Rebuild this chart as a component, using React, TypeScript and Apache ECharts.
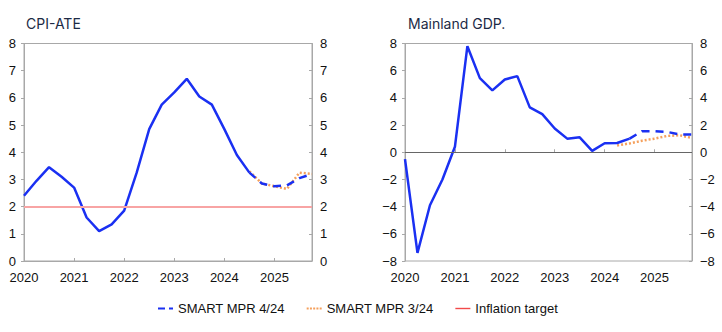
import React, { useEffect, useRef } from "react";
import * as echarts from "echarts";

const YEARS = ["2020", "2021", "2022", "2023", "2024", "2025"];
const QUARTERS = ["Q1", "Q2", "Q3", "Q4"];

// CPI-ATE, four-quarter change, actual 2020Q1–2024Q3
const cpiActual = [2.4, 2.95, 3.45, 3.1, 2.7, 1.6, 1.1, 1.35, 1.85, 3.25, 4.85, 5.75, 6.2, 6.7, 6.05, 5.75, 4.85, 3.9, 3.25];
// SMART MPR 4/24, from 2024Q3
const cpiMpr424 = [3.25, 2.85, 2.75, 2.78, 3.05, 3.2];
// SMART MPR 3/24, from 2024Q3
const cpiMpr324 = [3.3, 2.85, 2.75, 2.65, 3.25, 3.2];
const INFLATION_TARGET = 2;

// Mainland GDP, actual 2020Q1–2024Q3
const gdpActual = [-0.5, -7.4, -3.9, -2.0, 0.4, 7.8, 5.45, 4.55, 5.35, 5.6, 3.3, 2.8, 1.75, 1.0, 1.1, 0.1, 0.66, 0.68, 1.0];
// SMART MPR 4/24, from 2024Q3
const gdpMpr424 = [1.0, 1.55, 1.55, 1.5, 1.3, 1.3];
// SMART MPR 3/24, from 2024Q2
const gdpMpr324 = [0.5, 0.65, 0.85, 1.0, 1.2, 1.25, 1.05];

const cpiYTicks = { min: 0, max: 8, interval: 1 };
const gdpYTicks = { min: -8, max: 8, interval: 2 };

const categories: string[] = [];
YEARS.forEach((y) => QUARTERS.forEach((q) => categories.push(y + " " + q)));

const pad = (arr: number[], start: number) => {
  const out: (number | null)[] = [];
  for (let i = 0; i < start; i++) out.push(null);
  return out.concat(arr);
};

const FONT = "'Liberation Sans', Arial, Helvetica, sans-serif";
const TITLE_FONT = "Inter, 'Liberation Sans', Arial, sans-serif";
const BLUE = "#1a30f2";
const ORANGE = "#f5a05c";
const AXIS_GREY = "#a8a8a8";

const ICON_DASH = "path://M0,0h7v2h-7zM11,0h4v2h-4z";
const ICON_DOT = "path://M0,0h2v2h-2zM3.25,0h2v2h-2zM6.5,0h2v2h-2zM9.75,0h2v2h-2zM13,0h2v2h-2z";
const ICON_LINE = "path://M0,0h15v1.4h-15z";

export default function App() {
  const ref = useRef<HTMLDivElement>(null);
  useEffect(() => {
    if (!ref.current) return;
    const chart = echarts.init(ref.current, null, { renderer: "svg" });

    const xAxisBase = (gridIndex: number) => ({
      type: "category" as const,
      gridIndex,
      data: categories,
      boundaryGap: false,
      axisLine: { lineStyle: { color: AXIS_GREY, width: 1 } },
      axisTick: { inside: true, length: 3, interval: 3, lineStyle: { color: AXIS_GREY } },
      axisLabel: {
        interval: 3,
        margin: 10,
        fontSize: 13,
        fontFamily: FONT,
        color: "#111",
        formatter: (v: string) => v.split(" ")[0],
      },
      splitLine: { show: false },
    });

    const yAxisBase = (gridIndex: number, position: "left" | "right", t: any) => ({
      type: "value" as const,
      gridIndex,
      position,
      min: t.min,
      max: t.max,
      interval: t.interval,
      axisLine: { show: true, onZero: false, lineStyle: { color: AXIS_GREY, width: 1 } },
      axisTick: { show: true, inside: position === "right", length: 3, lineStyle: { color: AXIS_GREY } },
      axisLabel: {
        margin: 8,
        fontSize: 13,
        fontFamily: FONT,
        color: "#111",
        formatter: (v: number) => String(v).replace("-", "\u2212"),
      },
      splitLine: { show: false },
    });

    const option: any = {
      animation: false,
      backgroundColor: "#ffffff",
      title: [
        { text: "CPI-ATE", left: 21, top: 11, textStyle: { fontSize: 14, fontWeight: "normal", color: "#1c2a45", fontFamily: TITLE_FONT } },
        { text: "Mainland GDP.", left: 403, top: 11, textStyle: { fontSize: 14, fontWeight: "normal", color: "#1c2a45", fontFamily: TITLE_FONT } },
      ],
      legend: {
        left: 153,
        top: 297,
        itemWidth: 15,
        itemHeight: 2.5,
        itemGap: 22,
        data: [
          { name: "SMART MPR 4/24", icon: ICON_DASH, itemStyle: { color: BLUE } },
          { name: "SMART MPR 3/24", icon: ICON_DOT, itemStyle: { color: ORANGE } },
          { name: "Inflation target", icon: ICON_LINE, itemStyle: { color: "#f24a4a" } },
        ],
        textStyle: { fontSize: 13, fontFamily: FONT, color: "#111" },
      },
      grid: [
        { left: 24, right: 410, top: 43.5, bottom: 71, show: true, borderColor: AXIS_GREY, borderWidth: 1, backgroundColor: "transparent" },
        { left: 405, right: 30, top: 43.5, bottom: 71, show: true, borderColor: AXIS_GREY, borderWidth: 1, backgroundColor: "transparent" },
      ],
      xAxis: [xAxisBase(0), xAxisBase(1)],
      yAxis: [
        yAxisBase(0, "left", cpiYTicks),
        yAxisBase(0, "right", cpiYTicks),
        yAxisBase(1, "left", gdpYTicks),
        yAxisBase(1, "right", gdpYTicks),
      ],
      series: [
        {
          name: "Inflation target",
          type: "line",
          xAxisIndex: 0,
          yAxisIndex: 0,
          data: [],
          symbol: "none",
          lineStyle: { color: "#f24a4a", width: 1.5 },
          itemStyle: { color: "#f24a4a" },
          markLine: {
            silent: true,
            symbol: "none",
            label: { show: false },
            lineStyle: { color: "#f8a4a4", width: 2, type: "solid" },
            data: [{ yAxis: INFLATION_TARGET }],
          },
          z: 1,
        },
        {
          name: "CPI-ATE",
          type: "line",
          xAxisIndex: 0,
          yAxisIndex: 0,
          data: cpiActual,
          symbol: "none",
          lineStyle: { color: BLUE, width: 2.5 },
          itemStyle: { color: BLUE },
          z: 4,
        },
        {
          name: "SMART MPR 3/24",
          type: "line",
          xAxisIndex: 0,
          yAxisIndex: 0,
          data: pad(cpiMpr324, 18),
          symbol: "none",
          lineStyle: { color: ORANGE, width: 2.5, type: [2, 2] },
          itemStyle: { color: ORANGE },
          z: 3,
        },
        {
          name: "SMART MPR 4/24",
          type: "line",
          xAxisIndex: 0,
          yAxisIndex: 0,
          data: pad(cpiMpr424, 18),
          symbol: "none",
          lineStyle: { color: BLUE, width: 2.5, type: [8, 6] },
          itemStyle: { color: BLUE },
          z: 4,
        },
        {
          name: "Mainland GDP",
          type: "line",
          xAxisIndex: 1,
          yAxisIndex: 2,
          data: gdpActual,
          symbol: "none",
          lineStyle: { color: BLUE, width: 2.5 },
          itemStyle: { color: BLUE },
          markLine: {
            silent: true,
            symbol: "none",
            label: { show: false },
            lineStyle: { color: "#666666", width: 1, type: "solid" },
            data: [{ yAxis: 0 }],
          },
          z: 4,
        },
        {
          name: "SMART MPR 3/24",
          type: "line",
          xAxisIndex: 1,
          yAxisIndex: 2,
          data: pad(gdpMpr324, 17),
          symbol: "none",
          lineStyle: { color: ORANGE, width: 2.5, type: [2, 2] },
          itemStyle: { color: ORANGE },
          z: 3,
        },
        {
          name: "SMART MPR 4/24",
          type: "line",
          xAxisIndex: 1,
          yAxisIndex: 2,
          data: pad(gdpMpr424, 18),
          symbol: "none",
          lineStyle: { color: BLUE, width: 2.5, type: [8, 6] },
          itemStyle: { color: BLUE },
          z: 4,
        },
      ],
    };
    chart.setOption(option);
    return () => chart.dispose();
  }, []);

  return (
    <div
      ref={ref}
      style={{ position: "fixed", left: 0, top: 0, width: 722, height: 332, background: "#fff" }}
    />
  );
}
